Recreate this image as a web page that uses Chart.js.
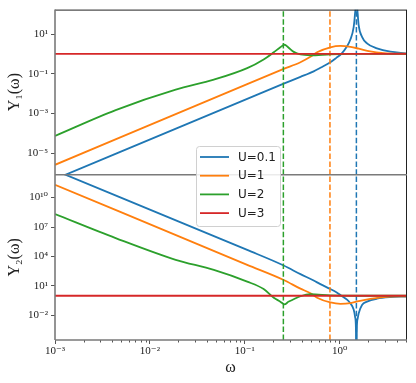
<!DOCTYPE html>
<html>
<head>
<meta charset="utf-8">
<script src="https://cdn.jsdelivr.net/npm/chart.js@4.4.1/dist/chart.umd.min.js"></script>
<style>
  html, body { margin: 0; padding: 0; background: #fff; }
</style>
</head>
<body>
<canvas id="grafico" width="416" height="383"></canvas>
<script>
// dados
const labels = ["U=0.1", "U=1", "U=2", "U=3"];

const omegaU01 = [0.001, 0.106, 0.257, 0.386, 0.532, 0.626, 0.798, 0.923, 1.042, 1.196, 1.296, 1.404, 1.45, 1.48, 1.50, 1.52, 1.55, 1.585, 1.72, 1.94, 2.47, 3.42, 5.0];
const y1U01 = [4.9e-7, 5.37e-3, 0.0316, 0.0692, 0.132, 0.2, 0.380, 0.631, 1.0, 2.40, 5.25, 22.4, 100, 631, 1e5, 631, 100, 28.2, 7.24, 3.39, 1.91, 1.29, 1.07];
const y2U01 = [5.89e12, 4.68e4, 1202, 158, 35.5, 15.1, 4.79, 2.24, 1.0, 0.398, 0.170, 0.0398, 7.94e-3, 1e-3, 1e-6, 1e-3, 5.01e-3, 0.0158, 0.115, 0.251, 0.501, 0.724, 0.832];

const omegaU1 = [0.001, 0.106, 0.257, 0.386, 0.492, 0.578, 0.798, 1.02, 1.30, 1.59, 2.10, 2.91, 5.0];
const y1U1 = [2.57e-6, 0.0302, 0.174, 0.380, 0.708, 1.20, 2.14, 2.51, 2.24, 1.82, 1.32, 1.10, 1.02];
const y2U1 = [2.04e11, 1413, 40.7, 5.25, 1.82, 0.631, 0.209, 0.151, 0.178, 0.282, 0.479, 0.741, 0.891];

const omegaU2 = [0.001, 0.00436, 0.0187, 0.0472, 0.106, 0.158, 0.202, 0.237, 0.262, 0.288, 0.328, 0.386, 0.492, 0.798, 1.3, 5.0];
const y1U2 = [7.41e-5, 1.48e-3, 0.0158, 0.0501, 0.191, 0.525, 1.20, 2.14, 2.88, 2.09, 1.26, 0.933, 0.851, 0.955, 1, 1];
const y2U2 = [2.09e8, 7.41e5, 4571, 427, 27.5, 4.79, 0.631, 0.251, 0.132, 0.240, 0.437, 0.891, 1.45, 1.10, 1, 1];

const omegaU3 = [0.001, 5.0];
const y1U3 = [1, 1];
const y2U3 = [1, 1];

// frequencias das linhas tracejadas (U=0.1, U=1, U=2)
const resonances = [1.5, 0.79, 0.255];

const xRange = [1e-3, 5];
const y1Range = [8.1e-7, 170];
const y2Range = [3.1e-5, 2.1e12];

const xTicks = [1e-3, 1e-2, 1e-1, 1];
const y1Ticks = [1e-5, 1e-3, 1e-1, 10];
const y2Ticks = [1e-2, 10, 1e4, 1e7, 1e10];

const cores = ["#1f77b4", "#ff7f0e", "#2ca02c", "#d62728"];
const serif = "'Liberation Serif', 'DejaVu Serif', serif";

function pontos(omega, ys) {
  return omega.map((w, i) => ({ x: w, y: ys[i] }));
}

const sup = { "-": "\u207B", "0": "\u2070", "1": "\u00B9", "2": "\u00B2", "3": "\u00B3", "4": "\u2074", "5": "\u2075", "6": "\u2076", "7": "\u2077", "8": "\u2078", "9": "\u2079" };
function rotuloPot(v) {
  const e = Math.round(Math.log10(v));
  return "10" + String(e).split("").map(c => sup[c]).join("");
}

const curvas = [
  [omegaU01, y1U01, y2U01],
  [omegaU1, y1U1, y2U1],
  [omegaU2, y1U2, y2U2],
  [omegaU3, y1U3, y2U3],
];

const datasets = [];
curvas.forEach((c, i) => {
  datasets.push({ label: labels[i], data: pontos(c[0], c[1]), yAxisID: "yTop", borderColor: cores[i], borderWidth: 1.8, pointRadius: 0, cubicInterpolationMode: "monotone", order: 4 - i });
  datasets.push({ label: labels[i], data: pontos(c[0], c[2]), yAxisID: "yBot", borderColor: cores[i], borderWidth: 1.8, pointRadius: 0, cubicInterpolationMode: "monotone", order: 4 - i });
});
resonances.forEach((w, i) => {
  datasets.push({ label: "", data: [{ x: w, y: y1Range[0] }, { x: w, y: y1Range[1] }], yAxisID: "yTop", borderColor: cores[i], borderWidth: 1.5, borderDash: [5.5, 2.4], pointRadius: 0, order: 4.5 - i });
  datasets.push({ label: "", data: [{ x: w, y: y2Range[0] }, { x: w, y: y2Range[1] }], yAxisID: "yBot", borderColor: cores[i], borderWidth: 1.5, borderDash: [5.5, 2.4], pointRadius: 0, order: 4.5 - i });
});

// recorta cada serie no seu painel
const recortePainel = {
  id: "recortePainel",
  beforeDatasetDraw(chart, args) {
    const ys = args.meta.yScale;
    const a = chart.chartArea;
    chart.ctx.save();
    chart.ctx.beginPath();
    chart.ctx.rect(a.left, ys.top, a.right - a.left, ys.bottom - ys.top);
    chart.ctx.clip();
  },
  afterDatasetDraw(chart) {
    chart.ctx.restore();
  }
};

// ticks menores do eixo x + moldura dos paineis
const moldura = {
  id: "moldura",
  afterDatasetsDraw(chart) {
    const ctx = chart.ctx;
    const a = chart.chartArea;
    const xs = chart.scales.x;
    const meio = chart.scales.yTop.bottom;
    ctx.save();
    ctx.strokeStyle = "#555";
    ctx.lineWidth = 1;
    for (let n = -3; n <= 0; n++) {
      for (let k = 2; k <= 9; k++) {
        const v = k * Math.pow(10, n);
        if (v > xRange[1]) continue;
        const px = Math.round(xs.getPixelForValue(v)) + 0.5;
        ctx.beginPath();
        ctx.moveTo(px, a.bottom);
        ctx.lineTo(px, a.bottom + 2.5);
        ctx.stroke();
      }
    }
    ctx.strokeStyle = "#222";
    ctx.lineWidth = 1;
    ctx.beginPath();
    ctx.moveTo(a.left, a.top + 0.5);
    ctx.lineTo(a.right, a.top + 0.5);
    ctx.moveTo(a.right + 0.5, a.top);
    ctx.lineTo(a.right + 0.5, a.bottom);
    ctx.stroke();
    ctx.strokeStyle = "#7a7a7a";
    ctx.lineWidth = 1.6;
    ctx.beginPath();
    ctx.moveTo(a.left, a.top);
    ctx.lineTo(a.left, a.bottom);
    ctx.moveTo(a.left, a.bottom);
    ctx.lineTo(a.right + 1, a.bottom);
    ctx.moveTo(a.left, meio);
    ctx.lineTo(a.right + 1, meio);
    ctx.stroke();
    ctx.restore();
  }
};

// legenda no meio do grafico
const legenda = {
  id: "legenda",
  afterDraw(chart) {
    const ctx = chart.ctx;
    const bx = 196, by = 146, bw = 84, bh = 80;
    ctx.save();
    ctx.fillStyle = "rgba(255,255,255,0.85)";
    ctx.strokeStyle = "#d0d0d0";
    ctx.lineWidth = 1;
    ctx.beginPath();
    ctx.roundRect(bx + 0.5, by + 0.5, bw, bh, 3);
    ctx.fill();
    ctx.stroke();
    ctx.font = "12px 'DejaVu Sans'";
    ctx.textBaseline = "middle";
    ctx.fillStyle = "#222";
    labels.forEach((t, i) => {
      const yy = by + 11 + i * 18.7;
      ctx.strokeStyle = cores[i];
      ctx.lineWidth = 1.8;
      ctx.beginPath();
      ctx.moveTo(bx + 4, yy);
      ctx.lineTo(bx + 33, yy);
      ctx.stroke();
      ctx.fillText(t, bx + 42, yy + 0.5);
    });
    ctx.restore();
  }
};

const eixoTicks = (lista) => (s) => { s.ticks = lista.map(v => ({ value: v })); };

const ctx = document.getElementById("grafico").getContext("2d");

let chart = new Chart(ctx, {
  type: "line",
  data: { datasets: datasets },
  options: {
    responsive: false,
    animation: false,
    devicePixelRatio: 1,
    layout: { padding: { top: 9, right: 10, left: 0, bottom: 0 } },
    plugins: { legend: { display: false }, tooltip: { enabled: false } },
    scales: {
      x: {
        type: "logarithmic",
        position: "bottom",
        min: xRange[0],
        max: xRange[1],
        bounds: "data",
        afterBuildTicks: eixoTicks(xTicks),
        afterFit: (s) => { s.height = 43; },
        ticks: { callback: (v) => rotuloPot(v), font: { family: serif, size: 11 }, color: "#222", padding: 1, maxRotation: 0, autoSkip: false },
        grid: { drawOnChartArea: false, tickLength: 4, color: "#555" },
        border: { display: false },
        title: { display: true, text: "\u03C9", font: { family: serif, size: 16 }, color: "#222", padding: { top: 0, bottom: 6 } }
      },
      // o eixo definido por ultimo fica em cima na pilha
      yBot: {
        type: "logarithmic",
        position: "left",
        stack: "paineis",
        stackWeight: 1,
        min: y2Range[0],
        max: y2Range[1],
        bounds: "data",
        afterBuildTicks: eixoTicks(y2Ticks),
        afterFit: (s) => { s.width = 55; },
        ticks: { callback: (v) => rotuloPot(v), font: { family: serif, size: 11 }, color: "#222", padding: 3, autoSkip: false },
        grid: { drawOnChartArea: false, tickLength: 4, color: "#555" },
        border: { display: false },
        title: { display: true, text: "Y\u2082(\u03C9)", font: { family: serif, size: 16 }, color: "#222", padding: { top: 5 } }
      },
      yTop: {
        type: "logarithmic",
        position: "left",
        stack: "paineis",
        stackWeight: 1,
        min: y1Range[0],
        max: y1Range[1],
        bounds: "data",
        afterBuildTicks: eixoTicks(y1Ticks),
        afterFit: (s) => { s.width = 55; },
        ticks: { callback: (v) => rotuloPot(v), font: { family: serif, size: 11 }, color: "#222", padding: 3, autoSkip: false },
        grid: { drawOnChartArea: false, tickLength: 4, color: "#555" },
        border: { display: false },
        title: { display: true, text: "Y\u2081(\u03C9)", font: { family: serif, size: 16 }, color: "#222", padding: { top: 5 } }
      }
    }
  },
  plugins: [recortePainel, moldura, legenda]
});
</script>
</body>
</html>
